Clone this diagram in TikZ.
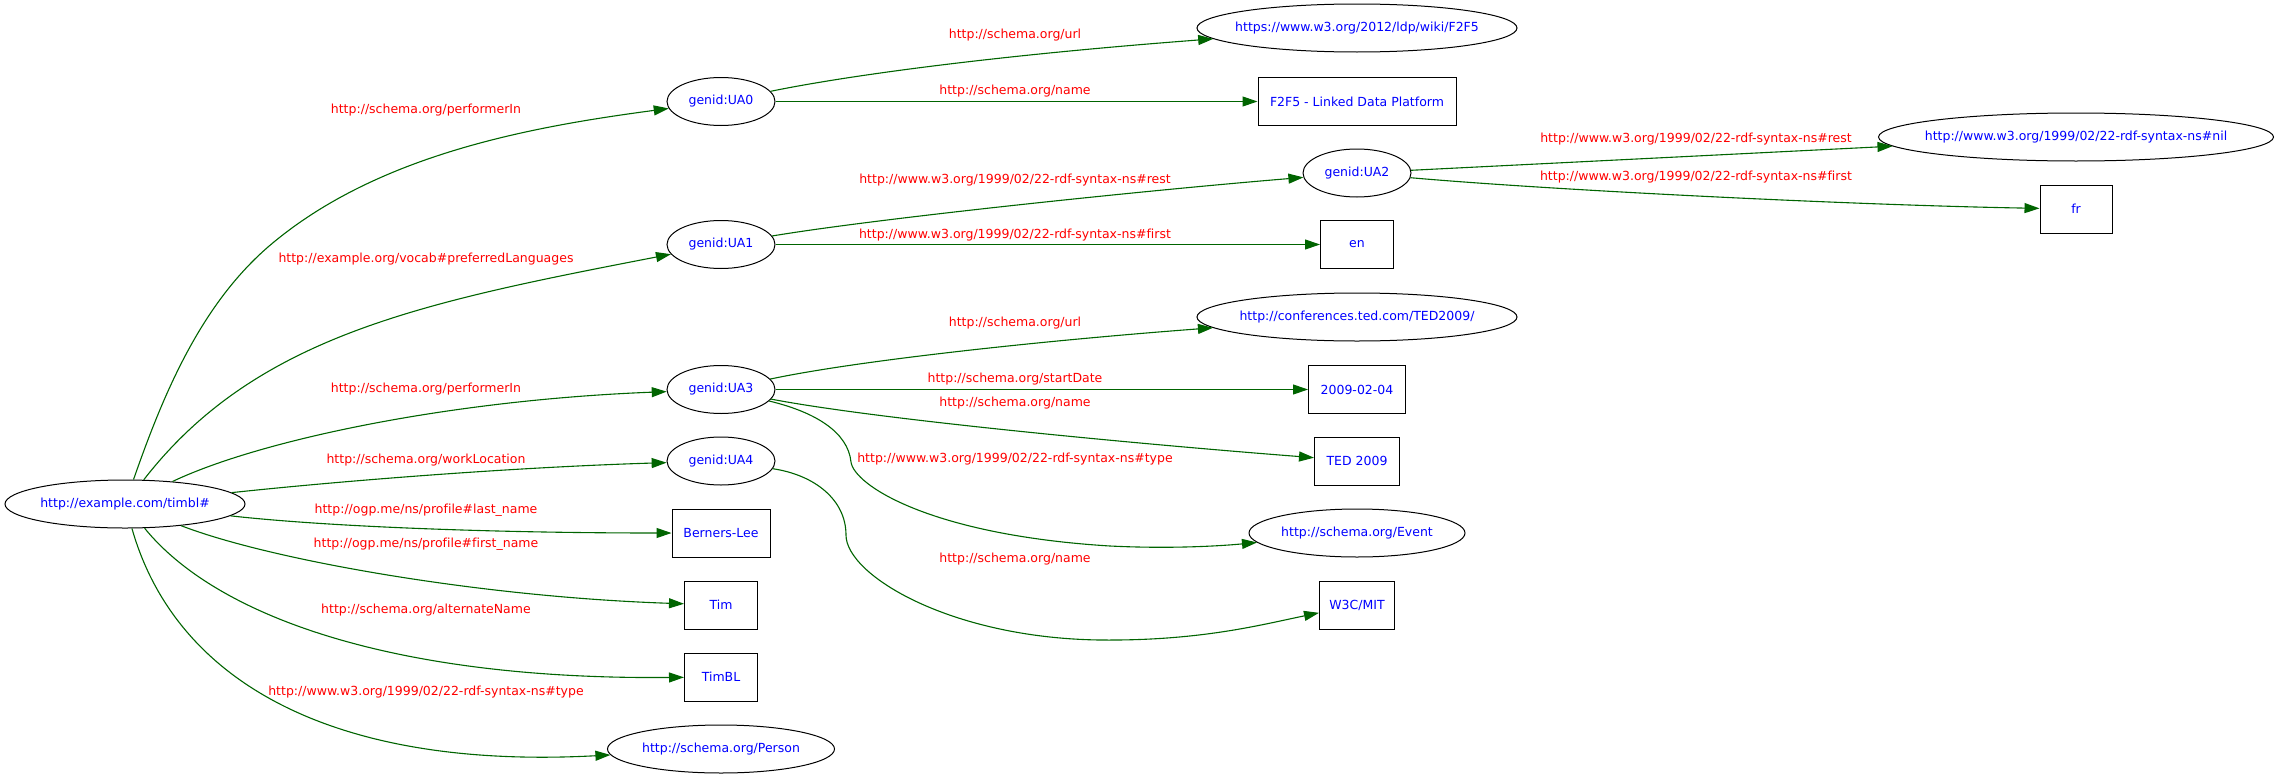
\documentclass[tikz,border=0pt]{standalone}
\usepackage{fontspec}
\setmainfont{DejaVu Sans}[Ligatures=NoCommon]
\usetikzlibrary{shapes.geometric,arrows.meta}
\definecolor{lblred}{RGB}{255,0,0}
\definecolor{txtblue}{RGB}{0,0,255}
\definecolor{edgegreen}{RGB}{0,100,0}
\newcommand{\nz}[1]{\makebox[0pt][c]{#1}}
\begin{document}
\begin{tikzpicture}[x=1pt,y=-1pt,
  every node/.style={font=\fontsize{12.5}{15}\selectfont},
  ell/.style={draw=black, line width=1pt, ellipse, inner sep=0pt, minimum height=48pt, text=txtblue},
  box/.style={draw=black, rectangle, line width=1pt, inner sep=0pt, minimum height=48pt, text=txtblue},
  lbl/.style={text=lblred, inner sep=0pt},
  rel/.style={draw=edgegreen, line width=1.1pt, -{Triangle[length=15pt,width=10pt]}}]
\useasboundingbox (0,0) rectangle (2280,779);
\fill[white] (0,0) rectangle (2280,779);
% nodes
\node[ell, minimum width=240pt] (timbl) at (125,504) {\nz{http://example.com/timbl\#}};
\node[ell, minimum width=108pt] (ua0) at (721,101.5) {\nz{genid:UA0}};
\node[ell, minimum width=108pt] (ua1) at (721,244.5) {\nz{genid:UA1}};
\node[ell, minimum width=108pt] (ua3) at (721,389.5) {\nz{genid:UA3}};
\node[ell, minimum width=108pt] (ua4) at (721,461) {\nz{genid:UA4}};
\node[box, minimum width=98pt] (bl) at (721,533) {\nz{Berners-Lee}};
\node[box, minimum width=73pt] (tim) at (721,605) {\nz{Tim}};
\node[box, minimum width=73pt] (timbl2) at (721,677) {\nz{TimBL}};
\node[ell, minimum width=227pt] (person) at (721,749) {\nz{http://schema.org/Person}};
\node[ell, minimum width=320pt] (url0) at (1357,28) {\nz{https://www.w3.org/2012/ldp/wiki/F2F5}};
\node[box, minimum width=198pt] (box0) at (1357,101.5) {\nz{F2F5 - Linked Data Platform}};
\node[ell, minimum width=108pt] (ua2) at (1357,173) {\nz{genid:UA2}};
\node[box, minimum width=73pt] (en) at (1357,244.5) {\nz{en}};
\node[ell, minimum width=320pt] (url3) at (1357,317) {\nz{http://conferences.ted.com/TED2009/}};
\node[box, minimum width=97pt] (date) at (1357,389.5) {\nz{2009-02-04}};
\node[box, minimum width=85pt] (ted) at (1357,461) {\nz{TED 2009}};
\node[ell, minimum width=216pt] (event) at (1357,533) {\nz{http://schema.org/Event}};
\node[box, minimum width=75pt] (w3c) at (1357,605) {\nz{W3C/MIT}};
\node[ell, minimum width=395pt] (nil) at (2076,137) {\nz{http://www.w3.org/1999/02/22-rdf-syntax-ns\#nil}};
\node[box, minimum width=72pt] (fr) at (2076,209) {\nz{fr}};
% edges
\draw[rel] (timbl) .. controls (163,395) and (200,306) .. (268,247) .. controls (375,155) and (529,127) .. (ua0);
\draw[rel] (timbl) .. controls (256,335) and (424,302) .. (ua1);
\draw[rel] (timbl) .. controls (260,440) and (450,400) .. (ua3);
\draw[rel] (timbl) .. controls (350,480) and (520,467) .. (ua4);
\draw[rel] (timbl) .. controls (330,527) and (500,533) .. (bl);
\draw[rel] (timbl) .. controls (270,560) and (480,597) .. (tim);
\draw[rel] (timbl) .. controls (215,615) and (390,680) .. (timbl2);
\draw[rel] (timbl) .. controls (175,680) and (330,770) .. (person);
\draw[rel] (ua0) .. controls (850,75) and (1000,55) .. (url0);
\draw[rel] (ua0) -- (box0);
\draw[rel] (ua1) .. controls (880,218) and (1150,190) .. (ua2);
\draw[rel] (ua1) -- (en);
\draw[rel] (ua2) -- (nil);
\draw[rel] (ua2) .. controls (1550,190) and (1850,205) .. (fr);
\draw[rel] (ua3) .. controls (860,360) and (1050,340) .. (url3);
\draw[rel] (ua3) -- (date);
\draw[rel] (ua3) .. controls (880,420) and (1150,445) .. (ted);
\draw[rel] (ua3) .. controls (815,412) and (848,432) .. (851,462) .. controls (854,485) and (930,535) .. (1110,546) .. controls (1170,549) and (1220,546) .. (event);
\draw[rel] (ua4) .. controls (815,475) and (846,500) .. (846,535) .. controls (846,575) and (950,638) .. (1100,640) .. controls (1200,641) and (1260,625) .. (w3c);
% labels
\node[lbl] (l1) at (426,110) {http://schema.org/performerIn};
\node[lbl] (l2) at (426,259) {http://example.org/vocab\#preferredLanguages};
\node[lbl] (l3) at (426,389) {http://schema.org/performerIn};
\node[lbl] (l4) at (426,460) {http://schema.org/workLocation};
\node[lbl] (l5) at (426,510) {http://ogp.me/ns/profile\#last\_name};
\node[lbl] (l6) at (426,544) {http://ogp.me/ns/profile\#first\_name};
\node[lbl] (l7) at (426,610) {http://schema.org/alternateName};
\node[lbl] (l8) at (426,692) {http://www.w3.org/1999/02/22-rdf-syntax-ns\#type};
\node[lbl] (l9) at (1015,35) {http://schema.org/url};
\node[lbl] (l10) at (1015,91) {http://schema.org/name};
\node[lbl] (l11) at (1015,180) {http://www.w3.org/1999/02/22-rdf-syntax-ns\#rest};
\node[lbl] (l12) at (1015,235) {http://www.w3.org/1999/02/22-rdf-syntax-ns\#first};
\node[lbl] (l13) at (1696,139) {http://www.w3.org/1999/02/22-rdf-syntax-ns\#rest};
\node[lbl] (l14) at (1696,177) {http://www.w3.org/1999/02/22-rdf-syntax-ns\#first};
\node[lbl] (l15) at (1015,323) {http://schema.org/url};
\node[lbl] (l16) at (1015,379) {http://schema.org/startDate};
\node[lbl] (l17) at (1015,403) {http://schema.org/name};
\node[lbl] (l18) at (1015,459) {http://www.w3.org/1999/02/22-rdf-syntax-ns\#type};
\node[lbl] (l19) at (1015,559) {http://schema.org/name};
\end{tikzpicture}
\end{document}
